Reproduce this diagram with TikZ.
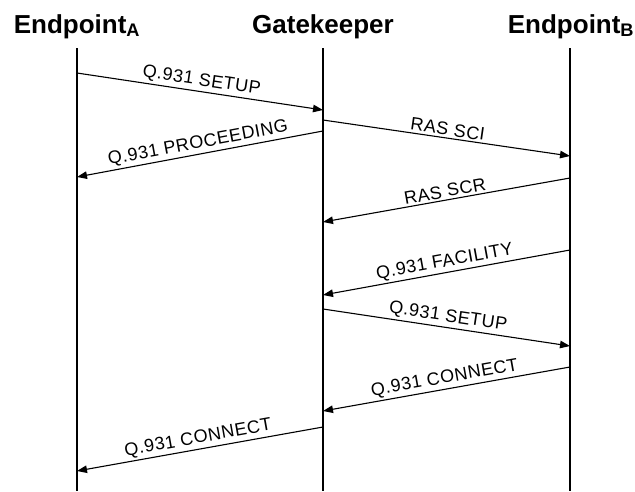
\documentclass[tikz,border=0pt]{standalone}
\usepackage{fontspec}
\setmainfont{Liberation Sans}
\usetikzlibrary{positioning,arrows.meta}

\begin{document}
\begin{tikzpicture}[x=1pt,y=-1pt,
	head/.style={font=\bfseries\fontsize{26}{30}\selectfont,anchor=base,inner sep=0pt},
	life/.style={black,line width=1.1pt},
	msg/.style={black,line width=1.1pt,-{Triangle[length=10pt,width=7.5pt]}},
	lbl/.style={font=\fontsize{18}{21}\selectfont\addfontfeature{LetterSpace=3},midway,sloped,above,inner sep=2pt}]
			\useasboundingbox (0,0) rectangle (635,491);
			\node [head] (epA) at (77,33) {Endpoint\textsubscript{A}};
			\node [head] (gk) at (323,33) {Gatekeeper};
			\node [head] (epB) at (571,33) {Endpoint\textsubscript{B}};
			\coordinate (aT) at (77,48);
			\coordinate (aB) at (77,491);
			\coordinate (gT) at (323,48);
			\coordinate (gB) at (323,491);
			\coordinate (bT) at (570,48);
			\coordinate (bB) at (570,491);
			\draw [life] (aT) -- (aB);
			\draw [life] (gT) -- (gB);
			\draw [life] (bT) -- (bB);
			\coordinate (a1) at (77,73);
			\coordinate (g1) at (323,110);
			\coordinate (g2) at (323,131);
			\coordinate (a2) at (77,177);
			\coordinate (g3) at (323,120);
			\coordinate (b3) at (570,156);
			\coordinate (b4) at (570,178);
			\coordinate (g4) at (323,222);
			\coordinate (b5) at (570,250);
			\coordinate (g5) at (323,295);
			\coordinate (g6) at (323,309);
			\coordinate (b6) at (570,346);
			\coordinate (b7) at (570,367);
			\coordinate (g7) at (323,411);
			\coordinate (g8) at (323,427);
			\coordinate (a8) at (77,471);
			\draw [msg] (a1) -- (g1) node [lbl] {Q.931 SETUP};
			\draw [msg] (g2) -- (a2) node [lbl] {Q.931 PROCEEDING};
			\draw [msg] (g3) -- (b3) node [lbl] {RAS SCI};
			\draw [msg] (b4) -- (g4) node [lbl] {RAS SCR};
			\draw [msg] (b5) -- (g5) node [lbl] {Q.931 FACILITY};
			\draw [msg] (g6) -- (b6) node [lbl] {Q.931 SETUP};
			\draw [msg] (b7) -- (g7) node [lbl] {Q.931 CONNECT};
			\draw [msg] (g8) -- (a8) node [lbl] {Q.931 CONNECT};
\end{tikzpicture}
\end{document}
